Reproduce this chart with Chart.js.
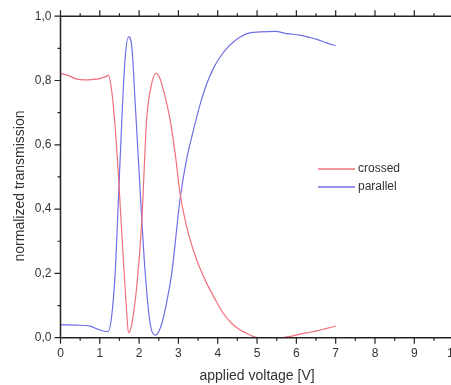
<!DOCTYPE html>
<html>
<head>
<meta charset="utf-8">
<script src="https://cdn.jsdelivr.net/npm/chart.js@4"></script>
<style>
  html, body { margin: 0; padding: 0; background: #fff; overflow: hidden; }
  #wrap { width: 451px; height: 385px; overflow: hidden; }
</style>
</head>
<body>
<div id="wrap"><canvas id="chart" width="470" height="385"></canvas></div>
<script>
// Data
const crossedX = [0, 0.2, 0.4, 0.6, 0.8, 1.0, 1.15, 1.22, 1.30, 1.39, 1.50, 1.60, 1.68, 1.73, 1.81, 1.94, 2.07, 2.19, 2.32, 2.43, 2.53, 2.66, 2.79, 2.92, 3.04, 3.2, 3.38, 3.55, 3.72, 3.93, 4.14, 4.35, 4.57, 4.8, 4.99, 5.3, 5.58, 5.85, 6.09, 6.3, 6.52, 6.75, 7.0];
const crossedY = [0.822, 0.815, 0.805, 0.802, 0.803, 0.806, 0.812, 0.817, 0.77, 0.656, 0.45, 0.24, 0.086, 0.015, 0.04, 0.16, 0.366, 0.677, 0.79, 0.822, 0.806, 0.75, 0.677, 0.57, 0.45, 0.35, 0.272, 0.215, 0.169, 0.12, 0.076, 0.045, 0.024, 0.01, 0.001, 0.0, 0.0, 0.004, 0.011, 0.016, 0.021, 0.028, 0.036];

const parallelX = [0, 0.4, 0.75, 1.0, 1.21, 1.30, 1.39, 1.47, 1.56, 1.64, 1.73, 1.81, 1.90, 2.02, 2.15, 2.28, 2.42, 2.58, 2.70, 2.83, 3.04, 3.2, 3.38, 3.55, 3.72, 3.9, 4.06, 4.23, 4.40, 4.57, 4.74, 5.08, 5.46, 5.76, 6.09, 6.3, 6.52, 6.75, 7.0];
const parallelY = [0.04, 0.039, 0.036, 0.024, 0.019, 0.065, 0.2, 0.42, 0.677, 0.863, 0.936, 0.91, 0.73, 0.47, 0.21, 0.045, 0.008, 0.045, 0.11, 0.2, 0.43, 0.55, 0.645, 0.725, 0.79, 0.84, 0.873, 0.9, 0.92, 0.935, 0.946, 0.951, 0.953, 0.946, 0.941, 0.935, 0.928, 0.918, 0.908];

const seriesNames = ['crossed', 'parallel'];
const seriesColors = ['#f0707c', '#6f6fe6'];

const xTicks = [0, 1, 2, 3, 4, 5, 6, 7, 8, 9, 10];
const yTicks = [0, 0.2, 0.4, 0.6, 0.8, 1.0];

const xTitle = 'applied voltage [V]';
const yTitle = 'normalized transmission';

function toPoints(xs, ys) {
    return xs.map((x, i) => ({ x: x, y: ys[i] }));
}

const axisColor = '#222';
const textColor = '#333';
const fontFamily = '"Liberation Sans", Arial, sans-serif';

// Draws the boxed axes with major/minor ticks, the y title and the legend
const frameAxes = {
    id: 'frameAxes',
    afterDraw(chart) {
        const ctx = chart.ctx;
        const area = chart.chartArea;
        const xs = chart.scales.x;
        const ys = chart.scales.y;
        ctx.save();
        ctx.strokeStyle = axisColor;
        ctx.lineWidth = 1.5;
        ctx.beginPath();
        ctx.moveTo(area.left, area.top);
        ctx.lineTo(area.right, area.top);
        ctx.moveTo(area.left, area.bottom);
        ctx.lineTo(area.right, area.bottom);
        ctx.moveTo(area.left, area.top);
        ctx.lineTo(area.left, area.bottom);
        ctx.moveTo(area.right, area.top);
        ctx.lineTo(area.right, area.bottom);
        ctx.stroke();

        ctx.lineWidth = 1.2;
        ctx.beginPath();
        for (let v = 0; v <= 10.001; v += 0.5) {
            const px = xs.getPixelForValue(v);
            const len = Math.abs(v - Math.round(v)) < 0.01 ? 6 : 3;
            ctx.moveTo(px, area.bottom);
            ctx.lineTo(px, area.bottom + len);
            ctx.moveTo(px, area.top);
            ctx.lineTo(px, area.top - len);
        }
        for (let v = 0; v <= 1.0001; v += 0.1) {
            const py = ys.getPixelForValue(v);
            const major = Math.round(v * 10) % 2 === 0;
            const len = major ? 6 : 3;
            ctx.moveTo(area.left, py);
            ctx.lineTo(area.left - len, py);
            ctx.moveTo(area.right, py);
            ctx.lineTo(area.right + len, py);
        }
        ctx.stroke();

        // y axis title
        ctx.save();
        ctx.translate(20, 186);
        ctx.rotate(-Math.PI / 2);
        ctx.font = '14px ' + fontFamily;
        ctx.fillStyle = textColor;
        ctx.textAlign = 'center';
        ctx.textBaseline = 'middle';
        ctx.fillText(yTitle, 0, 0);
        ctx.restore();

        // legend
        ctx.font = '12px ' + fontFamily;
        ctx.textBaseline = 'middle';
        ctx.textAlign = 'left';
        const lx = 318, ly = [169, 187];
        seriesNames.forEach((name, i) => {
            ctx.strokeStyle = seriesColors[i];
            ctx.lineWidth = 1.3;
            ctx.beginPath();
            ctx.moveTo(lx, ly[i]);
            ctx.lineTo(lx + 37, ly[i]);
            ctx.stroke();
            ctx.fillStyle = textColor;
            ctx.fillText(name, lx + 40, ly[i]);
        });
        ctx.restore();
    }
};

new Chart(document.getElementById('chart'), {
    type: 'scatter',
    data: {
        datasets: [
            {
                label: seriesNames[0],
                data: toPoints(crossedX, crossedY),
                showLine: true,
                borderColor: seriesColors[0],
                borderWidth: 1.2,
                pointRadius: 0,
                cubicInterpolationMode: 'monotone'
            },
            {
                label: seriesNames[1],
                data: toPoints(parallelX, parallelY),
                showLine: true,
                borderColor: seriesColors[1],
                borderWidth: 1.2,
                pointRadius: 0,
                cubicInterpolationMode: 'monotone'
            }
        ]
    },
    options: {
        responsive: false,
        animation: false,
        layout: { padding: { top: 16, right: 16.4, left: 0, bottom: 0 } },
        plugins: {
            legend: { display: false },
            tooltip: { enabled: false }
        },
        scales: {
            x: {
                type: 'linear',
                min: 0,
                max: 10,
                grid: { display: false, drawTicks: false },
                border: { display: false },
                afterBuildTicks: (scale) => { scale.ticks = xTicks.map(v => ({ value: v })); },
                afterFit: (scale) => { scale.height = 47.3; },
                ticks: {
                    padding: 9,
                    color: textColor,
                    font: { family: fontFamily, size: 12 },
                    maxRotation: 0,
                    callback: (v) => String(v)
                },
                title: {
                    display: true,
                    text: xTitle,
                    color: textColor,
                    font: { family: fontFamily, size: 14 },
                    padding: { top: 5, bottom: 0 }
                }
            },
            y: {
                type: 'linear',
                min: 0,
                max: 1,
                grid: { display: false, drawTicks: false },
                border: { display: false },
                afterBuildTicks: (scale) => { scale.ticks = yTicks.map(v => ({ value: v })); },
                afterFit: (scale) => { scale.width = 60.5; },
                ticks: {
                    padding: 9,
                    color: textColor,
                    font: { family: fontFamily, size: 12 },
                    callback: (v) => v.toFixed(1).replace('.', ',')
                }
            }
        }
    },
    plugins: [frameAxes]
});
</script>
</body>
</html>
